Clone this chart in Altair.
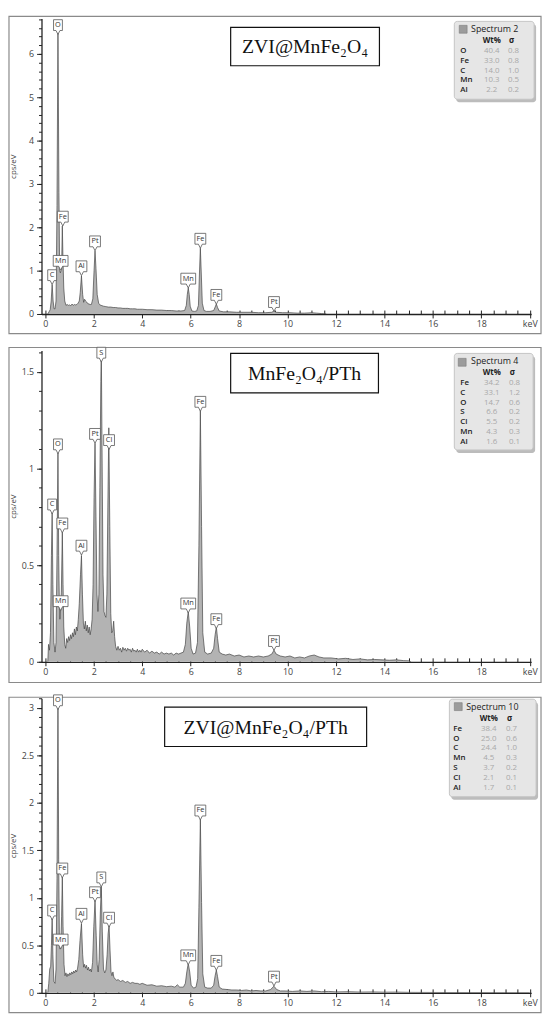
import altair as alt
import pandas as pd

# ---------------- data ----------------
# spectrum points (keV, cps/eV)
SPEC1 = [(0.10,0.00),(0.15,0.05),(0.20,0.10),(0.24,0.30),(0.28,0.68),(0.32,0.30),(0.36,0.12),(0.40,0.12),
         (0.44,0.30),(0.48,2.50),(0.52,6.60),(0.56,2.80),(0.59,1.00),(0.62,0.95),(0.645,1.00),(0.67,1.05),
         (0.70,2.03),(0.73,1.20),(0.76,0.60),(0.80,0.30),(0.85,0.20),(0.90,0.22),(0.95,0.20),(1.00,0.21),
         (1.05,0.19),(1.10,0.23),(1.15,0.20),(1.20,0.22),(1.25,0.21),(1.30,0.22),(1.35,0.25),(1.40,0.30),
         (1.44,0.50),(1.49,0.88),(1.54,0.45),(1.58,0.27),(1.62,0.34),(1.66,0.30),(1.70,0.28),(1.75,0.24),
         (1.80,0.23),(1.85,0.22),(1.90,0.22),(1.96,0.35),(2.01,1.00),(2.05,1.46),(2.09,1.05),(2.14,0.45),
         (2.20,0.25),(2.25,0.21),(2.30,0.20),(2.40,0.18),(2.50,0.17),(2.60,0.16),(2.70,0.16),(2.80,0.15),
         (2.90,0.15),(3.00,0.14),(3.10,0.14),(3.20,0.13),(3.30,0.13),(3.40,0.13),(3.50,0.12),(3.60,0.12),
         (3.70,0.12),(3.80,0.11),(3.90,0.11),(4.00,0.11),(4.20,0.10),(4.40,0.10),(4.60,0.09),(4.80,0.09),
         (5.00,0.08),(5.20,0.08),(5.40,0.07),(5.60,0.07),(5.75,0.08),(5.82,0.20),(5.86,0.45),(5.90,0.60),
         (5.94,0.45),(5.98,0.18),(6.05,0.07),(6.15,0.06),(6.25,0.07),(6.32,0.20),(6.36,0.90),(6.40,1.52),
         (6.44,0.90),(6.48,0.25),(6.55,0.08),(6.65,0.06),(6.80,0.06),(6.95,0.08),(7.01,0.16),(7.06,0.23),
         (7.11,0.15),(7.18,0.07),(7.35,0.05),(7.60,0.05),(7.90,0.04),(8.20,0.04),(8.50,0.04),(8.80,0.03),
         (9.10,0.03),(9.35,0.04),(9.44,0.07),(9.53,0.04),(9.80,0.03),(10.1,0.03),(10.4,0.02),(10.7,0.02),
         (11.0,0.03),(11.2,0.02),(11.4,0.01),(11.6,0.00)]

SPEC2 = [(0.10,0.00),(0.13,0.09),(0.17,0.06),(0.21,0.15),(0.25,0.55),(0.28,0.77),(0.31,0.40),(0.35,0.10),
         (0.40,0.05),(0.44,0.10),(0.48,0.55),(0.52,1.08),(0.55,0.55),(0.58,0.28),(0.60,0.22),(0.63,0.27),
         (0.66,0.36),(0.70,0.67),(0.73,0.40),(0.76,0.18),(0.80,0.09),(0.84,0.07),(0.88,0.12),(0.92,0.10),
         (0.96,0.13),(1.00,0.11),(1.04,0.14),(1.08,0.12),(1.12,0.15),(1.16,0.13),(1.20,0.17),(1.24,0.14),
         (1.28,0.18),(1.32,0.16),(1.36,0.22),(1.40,0.30),(1.45,0.45),(1.49,0.55),(1.53,0.35),(1.57,0.20),
         (1.61,0.17),(1.65,0.21),(1.69,0.16),(1.73,0.19),(1.77,0.15),(1.81,0.18),(1.85,0.14),(1.89,0.17),
         (1.93,0.22),(1.97,0.40),(2.01,0.85),(2.05,1.13),(2.09,0.75),(2.13,0.35),(2.17,0.26),(2.21,0.35),
         (2.25,0.90),(2.29,1.45),(2.31,1.62),(2.34,1.10),(2.38,0.45),(2.42,0.26),(2.46,0.24),(2.50,0.23),
         (2.54,0.35),(2.58,0.80),(2.62,1.21),(2.66,0.70),(2.70,0.25),(2.74,0.15),(2.78,0.16),(2.82,0.21),
         (2.86,0.13),(2.90,0.08),(2.95,0.06),(3.00,0.08),(3.05,0.06),(3.10,0.07),(3.15,0.05),(3.20,0.075),
         (3.25,0.06),(3.30,0.07),(3.35,0.055),(3.40,0.07),(3.45,0.06),(3.50,0.065),(3.55,0.05),(3.60,0.07),
         (3.65,0.055),(3.70,0.06),(3.75,0.05),(3.80,0.065),(3.85,0.05),(3.90,0.06),(3.95,0.05),(4.00,0.065),
         (4.10,0.05),(4.20,0.06),(4.30,0.045),(4.40,0.055),(4.50,0.045),(4.60,0.05),(4.70,0.04),(4.80,0.05),
         (4.90,0.04),(5.00,0.045),(5.10,0.04),(5.20,0.045),(5.30,0.035),(5.40,0.045),(5.50,0.04),(5.60,0.045),
         (5.70,0.05),(5.78,0.09),(5.84,0.20),(5.90,0.26),(5.96,0.18),(6.02,0.07),(6.10,0.04),(6.20,0.045),
         (6.28,0.10),(6.34,0.60),(6.40,1.30),(6.45,0.70),(6.50,0.15),(6.58,0.05),(6.70,0.04),(6.85,0.045),
         (6.95,0.07),(7.01,0.14),(7.06,0.18),(7.11,0.12),(7.18,0.05),(7.30,0.04),(7.45,0.035),(7.60,0.04),
         (7.80,0.03),(8.00,0.035),(8.20,0.025),(8.40,0.03),(8.60,0.025),(8.80,0.03),(9.00,0.025),(9.20,0.03),
         (9.35,0.04),(9.44,0.06),(9.53,0.04),(9.70,0.03),(9.90,0.025),(10.1,0.03),(10.3,0.02),(10.5,0.025),
         (10.7,0.02),(10.9,0.03),(11.1,0.035),(11.3,0.025),(11.5,0.02),(11.8,0.02),(12.1,0.015),(12.4,0.018),
         (12.7,0.012),(13.0,0.015),(13.3,0.01),(13.6,0.012),(13.9,0.01),(14.2,0.008),(14.5,0.01),(14.8,0.006),
         (15.0,0.005),(15.1,0.00)]

SPEC3 = [(0.10,0.00),(0.14,0.10),(0.18,0.25),(0.22,0.28),(0.25,0.50),(0.28,0.78),(0.31,0.40),(0.35,0.12),
         (0.40,0.10),(0.44,0.25),(0.48,1.20),(0.52,3.10),(0.55,1.40),(0.58,0.55),(0.61,0.46),(0.64,0.52),
         (0.67,0.80),(0.70,1.22),(0.73,0.70),(0.77,0.30),(0.81,0.18),(0.85,0.21),(0.89,0.17),(0.93,0.20),
         (0.97,0.18),(1.01,0.21),(1.05,0.19),(1.09,0.22),(1.13,0.20),(1.17,0.23),(1.21,0.21),(1.25,0.24),
         (1.29,0.22),(1.33,0.26),(1.38,0.35),(1.43,0.55),(1.49,0.73),(1.54,0.40),(1.58,0.27),(1.62,0.30),
         (1.66,0.26),(1.70,0.29),(1.74,0.24),(1.78,0.27),(1.82,0.23),(1.86,0.25),(1.90,0.22),(1.95,0.32),
         (2.00,0.70),(2.05,0.97),(2.10,0.60),(2.14,0.30),(2.18,0.22),(2.22,0.35),(2.27,0.85),(2.31,1.12),
         (2.35,0.65),(2.40,0.25),(2.45,0.21),(2.50,0.24),(2.55,0.40),(2.59,0.62),(2.63,0.71),(2.67,0.45),
         (2.71,0.22),(2.75,0.18),(2.79,0.22),(2.83,0.16),(2.88,0.15),(2.94,0.13),(3.00,0.14),(3.10,0.12),
         (3.20,0.13),(3.30,0.11),(3.40,0.12),(3.50,0.10),(3.60,0.11),(3.70,0.10),(3.80,0.10),(3.90,0.09),
         (4.00,0.10),(4.20,0.08),(4.40,0.085),(4.60,0.07),(4.80,0.075),(5.00,0.065),(5.20,0.07),(5.35,0.06),
         (5.45,0.085),(5.55,0.06),(5.70,0.06),(5.78,0.10),(5.84,0.22),(5.90,0.31),(5.96,0.22),(6.02,0.08),
         (6.12,0.05),(6.22,0.06),(6.29,0.15),(6.34,0.90),(6.40,1.83),(6.45,0.95),(6.50,0.20),(6.58,0.06),
         (6.70,0.05),(6.85,0.05),(6.95,0.08),(7.01,0.18),(7.06,0.24),(7.11,0.17),(7.18,0.06),(7.30,0.04),
         (7.50,0.035),(7.70,0.03),(7.90,0.03),(8.10,0.025),(8.30,0.03),(8.50,0.02),(8.70,0.025),(8.90,0.02),
         (9.10,0.02),(9.30,0.035),(9.44,0.07),(9.55,0.035),(9.70,0.02),(9.90,0.02),(10.2,0.015),(10.5,0.02),
         (10.8,0.015),(11.1,0.02),(11.4,0.012),(11.7,0.015),(12.0,0.01),(12.5,0.012),(13.0,0.008),(13.5,0.01),
         (14.0,0.007),(14.5,0.008),(15.0,0.005),(16.0,0.004),(17.0,0.003),(18.0,0.003),(19.0,0.002),(20.0,0.002)]

# peak labels (element, keV, height of pointer tip)
LABELS1 = [("C",0.28,0.68),("O",0.52,6.45),("Mn",0.63,1.01),("Fe",0.72,2.03),("Al",1.49,0.885),
           ("Pt",2.05,1.46),("Mn",5.9,0.60),("Fe",6.4,1.52),("Fe",7.06,0.225),("Pt",9.44,0.06)]
LABELS2 = [("C",0.28,0.765),("O",0.52,1.076),("Fe",0.70,0.667),("Mn",0.63,0.265),("Al",1.49,0.552),
           ("Pt",2.05,1.13),("S",2.31,1.55),("Cl",2.63,1.098),("Mn",5.9,0.253),("Fe",6.4,1.296),
           ("Fe",7.06,0.172),("Pt",9.44,0.059)]
LABELS3 = [("C",0.28,0.768),("O",0.52,2.98),("Fe",0.70,1.21),("Mn",0.63,0.462),("Al",1.49,0.733),
           ("Pt",2.05,0.96),("S",2.31,1.116),("Cl",2.63,0.692),("Mn",5.9,0.296),("Fe",6.4,1.82),
           ("Fe",7.06,0.238),("Pt",9.44,0.072)]

# quantification tables
LEG1_EL = ["O", "Fe", "C", "Mn", "Al"]
LEG1_WT = [40.4, 33.0, 14.0, 10.3, 2.2]
LEG1_SIG = [0.8, 0.8, 1.0, 0.5, 0.2]
LEG2_EL = ["Fe", "C", "O", "S", "Cl", "Mn", "Al"]
LEG2_WT = [34.2, 33.1, 14.7, 6.6, 5.5, 4.3, 1.6]
LEG2_SIG = [0.8, 1.2, 0.6, 0.2, 0.2, 0.3, 0.1]
LEG3_EL = ["Fe", "O", "C", "Mn", "S", "Cl", "Al"]
LEG3_WT = [38.4, 25.0, 24.4, 4.5, 3.7, 2.1, 1.7]
LEG3_SIG = [0.7, 0.6, 1.0, 0.3, 0.2, 0.1, 0.1]

TITLES = ["ZVI@MnFe\u2082O\u2084", "MnFe\u2082O\u2084/PTh", "ZVI@MnFe\u2082O\u2084/PTh"]
SPECTRUM_NAMES = ["Spectrum 2", "Spectrum 4", "Spectrum 10"]
Y_MAX = [6.82, 1.61, 3.1]
Y_MAJOR = [[0, 1, 2, 3, 4, 5, 6], [0, 0.5, 1, 1.5], [0, 0.5, 1, 1.5, 2, 2.5, 3]]
Y_MINOR_STEP = [0.2, 0.1, 0.1]

# ---------------- layout / style ----------------
X_DOMAIN = [-0.16, 20.06]
W = 497
FONT = "Open Sans, Noto Sans, sans-serif"
SERIF = "Liberation Serif, Times New Roman, DejaVu Serif, serif"
HALF_W = {"C": 0.45, "O": 0.45, "S": 0.45, "Mn": 0.75}
LFS = 8  # legend row font size


def box_path(w):
    return (f"M {-w} -1.5 L {w} -1.5 L {w} -0.4 L 0.2 -0.4 L 0 0 "
            f"L -0.2 -0.4 L {-w} -0.4 Z")


def rect(df, x1, y1, x2, y2, **kw):
    return alt.Chart(df).mark_rect(**kw).encode(
        x=alt.value(x1), x2=alt.value(x2), y=alt.value(y1), y2=alt.value(y2))


def panel(spec, labels, ymax, h, ymajor, ystep, title, tbox, frame, spec_name,
          els, wts, sigs, lg):
    xs = alt.Scale(domain=X_DOMAIN, nice=False, zero=False)
    ys = alt.Scale(domain=[0, ymax], nice=False, zero=False)
    sdf = pd.DataFrame(spec, columns=["keV", "cps"])
    one = pd.DataFrame({"t": [title], "s": [spec_name]})

    ax_x = alt.Axis(orient="bottom", values=list(range(0, 21, 2)),
                    labelExpr="datum.value == 20 ? 'keV' : datum.label",
                    tickSize=4, tickColor="#222", tickWidth=1, domainColor="#222",
                    domainWidth=1.3, labelFontSize=9, labelColor="#444", labelFont=FONT,
                    labelPadding=2, labelFlush=False, grid=False, title=None)
    ax_xm = alt.Axis(orient="bottom", values=[i * 0.5 for i in range(41)], labels=False,
                     domain=False, tickSize=4, offset=-4, tickColor="#222", tickWidth=1,
                     grid=False, title=None)
    nminor = int(round(ymax / ystep))
    ax_y = alt.Axis(orient="left", values=ymajor, format="~g", tickSize=5, tickColor="#222",
                    tickWidth=1, domainColor="#222", domainWidth=1.3, labelFontSize=9,
                    labelColor="#444", labelFont=FONT, labelPadding=3, labelFlush=False,
                    grid=False, title="cps/eV", titleX=-28, titleY=h / 2, titleAngle=270,
                    titleAlign="center", titleBaseline="middle", titleFontSize=8,
                    titleFontWeight="normal", titleColor="#444", titleFont=FONT)
    ax_ym = alt.Axis(orient="left", values=[round(i * ystep, 3) for i in range(nminor + 1)],
                     labels=False, domain=False, tickSize=3, tickColor="#222", tickWidth=1,
                     grid=False, title=None)

    fr = rect(one, frame[0], frame[1], frame[2], frame[3], fillOpacity=0,
              stroke="#8a8a8a", strokeWidth=1.2)
    area = alt.Chart(sdf).mark_area(color="#b3b3b3", clip=True).encode(
        x=alt.X("keV:Q", scale=xs, axis=ax_x), y=alt.Y("cps:Q", scale=ys, axis=ax_y))
    line = alt.Chart(sdf).mark_line(color="#454545", strokeWidth=0.7, clip=True).encode(
        x=alt.X("keV:Q", scale=xs, axis=ax_xm), y=alt.Y("cps:Q", scale=ys, axis=ax_ym))

    ldf = pd.DataFrame(labels, columns=["el", "keV", "tip"])
    ldf["shape"] = [box_path(HALF_W.get(e, 0.55)) for e in ldf["el"]]
    boxes = alt.Chart(ldf).mark_point(filled=True, color="#555555", fill="white",
                                      stroke="#555555", strokeWidth=0.8, size=400,
                                      opacity=1, fillOpacity=1, strokeOpacity=1).encode(
        x=alt.X("keV:Q", scale=xs, axis=None), y=alt.Y("tip:Q", scale=ys, axis=None),
        shape=alt.Shape("shape:N", scale=None, legend=None),
        stroke=alt.value("#555555"), fill=alt.value("white"))
    btxt = alt.Chart(ldf).mark_text(dy=-9.5, fontSize=7.5, font=FONT, color="#333",
                                    baseline="middle", align="center").encode(
        x=alt.X("keV:Q", scale=xs, axis=None), y=alt.Y("tip:Q", scale=ys, axis=None),
        text="el:N")

    tb = rect(one, tbox[0], tbox[1], tbox[2], tbox[3], fill="white", stroke="#111",
              strokeWidth=1.2)
    tt = alt.Chart(one).mark_text(font=SERIF, fontSize=20, color="#111", baseline="middle",
                                  align="center").encode(
        x=alt.value((tbox[0] + tbox[2]) / 2), y=alt.value((tbox[1] + tbox[3]) / 2 + 1),
        text="t:N")

    bx = lg["box"]
    shadow = rect(one, bx[0] + 2, bx[1] + 3, bx[2] + 2, bx[3] + 3, fill="#7a7a7a",
                  opacity=0.5, cornerRadius=3)
    lbox = rect(one, bx[0], bx[1], bx[2], bx[3], fill="#e6e6e6", stroke="#c4c4c4",
                strokeWidth=1, cornerRadius=3)
    sw = lg["sw"]
    swatch = rect(one, sw[0], sw[1], sw[2], sw[3], fill="#9c9c9c", stroke="#7c7c7c",
                  strokeWidth=0.6)
    ltitle = alt.Chart(one).mark_text(align="left", baseline="middle", fontSize=9,
                                      font=FONT, color="#222").encode(
        x=alt.value(lg["tx"]), y=alt.value(lg["ty"]), text="s:N")
    hy = lg["ry"] - 10
    hdr = pd.DataFrame({"h1": ["Wt%"], "h2": ["\u03c3"]})
    h1 = alt.Chart(hdr).mark_text(align="center", baseline="middle", fontSize=LFS, font=FONT,
                                  fontWeight="bold", color="#222").encode(
        x=alt.value(lg["wx"]), y=alt.value(hy), text="h1:N")
    h2 = alt.Chart(hdr).mark_text(align="center", baseline="middle", fontSize=LFS, font=FONT,
                                  fontWeight="bold", color="#222").encode(
        x=alt.value(lg["sx"]), y=alt.value(hy), text="h2:N")

    rdf = pd.DataFrame({"el": els, "wt": wts, "sig": sigs, "i": list(range(len(els)))})
    rows = alt.Chart(rdf).transform_calculate(py=f"{lg['ry']} + 10 * datum.i")
    r_el = rows.mark_text(align="left", baseline="middle", fontSize=LFS, font=FONT,
                          fontWeight=600, color="#222").encode(
        x=alt.value(lg["ex"]), y=alt.Y("py:Q", scale=None, axis=None), text="el:N")
    r_wt = rows.mark_text(align="center", baseline="middle", fontSize=LFS, font=FONT,
                          color="#a9a9a9").encode(
        x=alt.value(lg["wx"]), y=alt.Y("py:Q", scale=None, axis=None),
        text=alt.Text("wt:Q", format=".1f"))
    r_sig = rows.mark_text(align="center", baseline="middle", fontSize=LFS, font=FONT,
                           color="#a9a9a9").encode(
        x=alt.value(lg["sx"] + 2), y=alt.Y("py:Q", scale=None, axis=None),
        text=alt.Text("sig:Q", format=".1f"))

    return alt.layer(fr, area, line, boxes, btxt, tb, tt, shadow, lbox, swatch, ltitle,
                     h1, h2, r_el, r_wt, r_sig).resolve_axis(
        x="independent", y="independent").properties(width=W, height=h)


H = [300, 316, 299]
p1 = panel(SPEC1, LABELS1, Y_MAX[0], H[0], Y_MAJOR[0], Y_MINOR_STEP[0], TITLES[0],
           (192, 9, 343, 48), (-33, -2, 507, H[0] + 20), SPECTRUM_NAMES[0],
           LEG1_EL, LEG1_WT, LEG1_SIG,
           {"box": (419, 3, 500, 82), "sw": (424, 7, 432, 15), "tx": 436, "ty": 11,
            "wx": 457, "sx": 477, "ex": 425, "ry": 33})
p2 = panel(SPEC2, LABELS2, Y_MAX[1], H[1], Y_MAJOR[1], Y_MINOR_STEP[1], TITLES[1],
           (192, 3, 342, 43), (-33, -3, 507, H[1] + 21), SPECTRUM_NAMES[1],
           LEG2_EL, LEG2_WT, LEG2_SIG,
           {"box": (419, 3, 499, 101), "sw": (423, 8, 431, 16), "tx": 436, "ty": 11,
            "wx": 457, "sx": 478, "ex": 425, "ry": 33})
p3 = panel(SPEC3, LABELS3, Y_MAX[2], H[2], Y_MAJOR[2], Y_MINOR_STEP[2], TITLES[2],
           (125, 9, 330, 49), (-33, -1, 507, H[2] + 20), SPECTRUM_NAMES[2],
           LEG3_EL, LEG3_WT, LEG3_SIG,
           {"box": (414, 1, 502, 100), "sw": (419, 4.5, 427, 12.5), "tx": 431, "ty": 8.5,
            "wx": 454, "sx": 475, "ex": 418, "ry": 31})

chart = alt.VConcatChart(vconcat=[p1, p2, p3], spacing=37, bounds="flush").properties(
    padding={"left": 0, "top": 0, "right": 0, "bottom": 0}
).configure_view(stroke=None)

chart.save("out.html", embed_options={"renderer": "svg", "actions": False})
